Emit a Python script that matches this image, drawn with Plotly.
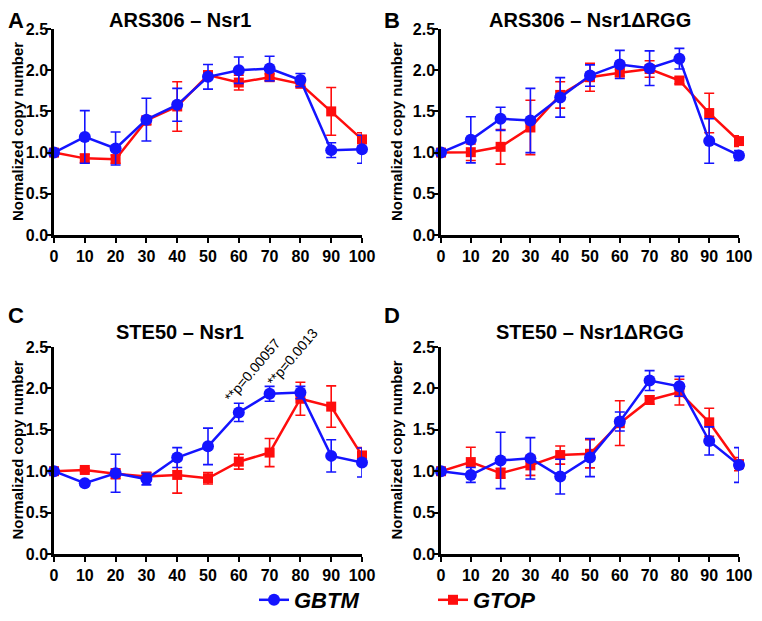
import plotly.graph_objects as go

x_vals = [0, 10, 20, 30, 40, 50, 60, 70, 80, 90, 100]
y_ticks = [0.0, 0.5, 1.0, 1.5, 2.0, 2.5]

# Panel A: ARS306 - Nsr1
a_gbtm = [1.00, 1.19, 1.05, 1.40, 1.58, 1.92, 2.00, 2.02, 1.88, 1.03, 1.04]
a_gbtm_err = [0.02, 0.32, 0.20, 0.26, 0.20, 0.15, 0.16, 0.15, 0.08, 0.09, 0.17]
a_gtop = [1.00, 0.93, 0.92, 1.39, 1.56, 1.94, 1.85, 1.915, 1.835, 1.50, 1.16]
a_gtop_err = [0.02, 0.05, 0.05, 0.05, 0.30, 0.05, 0.09, 0.04, 0.03, 0.29, 0.08]

# Panel B: ARS306 - Nsr1ΔRGG
b_gbtm = [1.00, 1.155, 1.41, 1.39, 1.67, 1.935, 2.07, 2.025, 2.14, 1.14, 0.965]
b_gbtm_err = [0.02, 0.28, 0.14, 0.39, 0.24, 0.13, 0.17, 0.21, 0.125, 0.27, 0.06]
b_gtop = [1.00, 1.005, 1.07, 1.305, 1.70, 1.915, 1.97, 2.015, 1.875, 1.48, 1.14]
b_gtop_err = [0.02, 0.10, 0.21, 0.33, 0.16, 0.17, 0.04, 0.10, 0.04, 0.24, 0.065]

# Panel C: STE50 - Nsr1
c_gbtm = [1.00, 0.855, 0.975, 0.905, 1.165, 1.30, 1.71, 1.935, 1.95, 1.185, 1.105]
c_gbtm_err = [0.02, 0.02, 0.23, 0.07, 0.12, 0.22, 0.11, 0.09, 0.075, 0.195, 0.175]
c_gtop = [1.00, 1.015, 0.97, 0.935, 0.955, 0.915, 1.115, 1.225, 1.875, 1.78, 1.19]
c_gtop_err = [0.02, 0.02, 0.06, 0.05, 0.22, 0.07, 0.09, 0.17, 0.20, 0.25, 0.095]

# Panel D: STE50 - Nsr1ΔRGG
d_gbtm = [1.00, 0.955, 1.13, 1.155, 0.935, 1.165, 1.60, 2.095, 2.025, 1.365, 1.075]
d_gbtm_err = [0.02, 0.09, 0.34, 0.25, 0.21, 0.23, 0.115, 0.12, 0.12, 0.17, 0.21]
d_gtop = [1.00, 1.11, 0.975, 1.07, 1.195, 1.21, 1.58, 1.86, 1.955, 1.59, 1.085]
d_gtop_err = [0.02, 0.18, 0.06, 0.12, 0.11, 0.17, 0.27, 0.05, 0.155, 0.17, 0.08]

panel_titles = ["ARS306 \u2013 Nsr1", "ARS306 \u2013 Nsr1\u0394RGG",
                "STE50 \u2013 Nsr1", "STE50 \u2013 Nsr1\u0394RGG"]
panel_letters = ["A", "B", "C", "D"]
series_names = ["GBTM", "GTOP"]
y_title = "Normalized copy number"
p_labels = ["**p=0.00057", "**p=0.0013"]
p_x = [60, 70]

BLUE = "#1414ff"
RED = "#ff0d0d"
FONT = "Liberation Sans, Arial, sans-serif"

panels = [
    (a_gbtm, a_gbtm_err, a_gtop, a_gtop_err),
    (b_gbtm, b_gbtm_err, b_gtop, b_gtop_err),
    (c_gbtm, c_gbtm_err, c_gtop, c_gtop_err),
    (d_gbtm, d_gbtm_err, d_gtop, d_gtop_err),
]

# the page body has an 8px margin: the figure is sized to fit inside the window
OFF = 8
W, H = 762 - OFF, 621 - 2 * OFF

def px(x):
    return (x - OFF) / W

def py(y):
    return 1 - (y - OFF) / H

# page-pixel boxes of plot areas (left, right, top, bottom)
boxes = [(54, 362, 29, 235), (441, 739, 29, 235),
         (54, 362, 347, 554), (441, 739, 347, 554)]

fig = go.Figure()
for i, (g, ge, t, te) in enumerate(panels):
    suffix = "" if i == 0 else str(i + 1)
    xa, ya = "x" + suffix, "y" + suffix
    fig.add_trace(go.Scatter(
        x=x_vals, y=t, name=series_names[1], mode="lines+markers",
        line=dict(color=RED, width=2.5),
        marker=dict(symbol="square", size=10, color=RED),
        error_y=dict(type="data", array=te, color=RED, thickness=1.6, width=5),
        cliponaxis=False, showlegend=(i == 0), legendrank=2,
        xaxis=xa, yaxis=ya))
    fig.add_trace(go.Scatter(
        x=x_vals, y=g, name=series_names[0], mode="lines+markers",
        line=dict(color=BLUE, width=2.5),
        marker=dict(symbol="circle", size=12, color=BLUE),
        error_y=dict(type="data", array=ge, color=BLUE, thickness=1.6, width=5),
        cliponaxis=False, showlegend=(i == 0), legendrank=1,
        xaxis=xa, yaxis=ya))

layout = dict(
    template="none",
    width=W, height=H, margin=dict(l=0, r=0, t=0, b=0, autoexpand=False),
    paper_bgcolor="white", plot_bgcolor="white",
    font=dict(family=FONT, color="black"),
    showlegend=True,
    legend=dict(orientation="h", x=px(254), xanchor="left", y=py(600), yanchor="middle",
                font=dict(size=22, family=FONT, style="italic", weight="bold"),
                traceorder="normal", entrywidthmode="pixels",
                entrywidth=134, bgcolor="rgba(0,0,0,0)"),
)
annotations = []
for i, (l, r, t, b) in enumerate(boxes):
    suffix = "" if i == 0 else str(i + 1)
    axis_common = dict(showgrid=False, zeroline=False, showline=True, linecolor="black",
                       linewidth=2.5, ticks="outside", ticklen=5, tickwidth=2,
                       tickcolor="black", automargin=False,
                       tickfont=dict(size=16, family=FONT, weight="bold", color="black"))
    layout["xaxis" + suffix] = dict(domain=[px(l), px(r)], range=[0, 100],
                                    tickvals=x_vals, anchor="y" + suffix, **axis_common)
    layout["yaxis" + suffix] = dict(domain=[py(b), py(t)], range=[0, 2.5],
                                    tickvals=y_ticks, tickformat=".1f",
                                    ticklabelstandoff=-5,
                                    anchor="x" + suffix, **axis_common)
    cx = 180 if i % 2 == 0 else 590
    ty = 20 if i < 2 else 332
    annotations.append(dict(text="<b>" + panel_titles[i] + "</b>", x=px(cx), y=py(ty),
                            xref="paper", yref="paper", showarrow=False,
                            font=dict(size=20, family=FONT), xanchor="center", yanchor="middle"))
    lx = 16 if i % 2 == 0 else 392
    ly = 20.5 if i < 2 else 315
    annotations.append(dict(text="<b>" + panel_letters[i] + "</b>", x=px(lx), y=py(ly),
                            xref="paper", yref="paper", showarrow=False,
                            font=dict(size=22, family=FONT), xanchor="center", yanchor="middle"))
    yx = 17 if i % 2 == 0 else 396
    annotations.append(dict(text="<b>" + y_title + "</b>", x=px(yx), y=py((t + b) / 2),
                            xref="paper", yref="paper", showarrow=False, textangle=-90,
                            font=dict(size=15, family=FONT), xanchor="center", yanchor="middle"))

# p-value annotations on panel C
for lab, xv, yv, xs in zip(p_labels, p_x,
                           [c_gbtm[6] + c_gbtm_err[6], c_gbtm[7] + c_gbtm_err[7]],
                           [-20, -9]):
    annotations.append(dict(text=lab, x=xv, y=yv, xref="x3", yref="y3", showarrow=False,
                            textangle=-50, xanchor="left", yanchor="bottom",
                            xshift=xs, yshift=-5,
                            font=dict(size=14, family=FONT, color="black")))
layout["annotations"] = annotations
fig.update_layout(**layout)
fig.write_html("out.html")
